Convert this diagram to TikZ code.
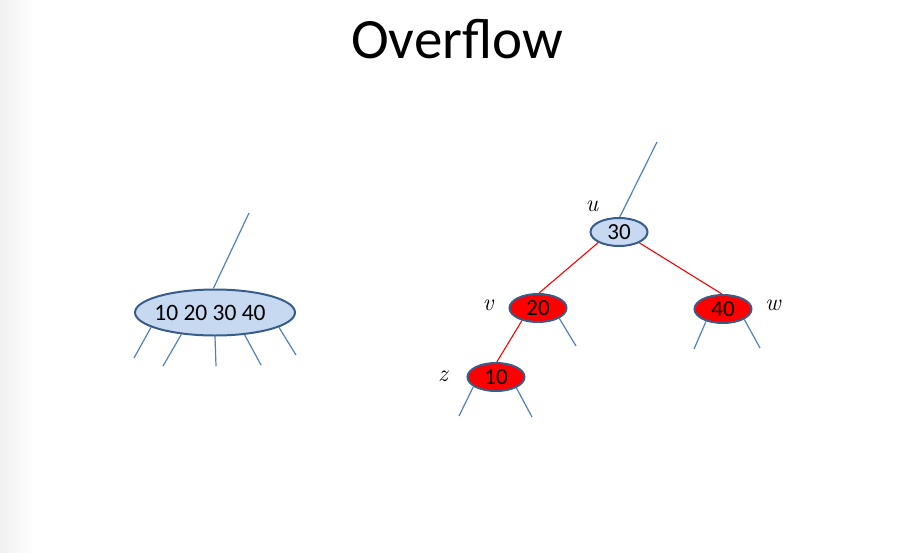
\documentclass[tikz,border=0pt]{standalone}
\usepackage{fontspec}
\setmainfont{Carlito}
\newfontfamily\lmrfont{Latin Modern Roman}
\usetikzlibrary{shapes.geometric}
\definecolor{nodeblue}{HTML}{C6D9F1}
\definecolor{borderblue}{HTML}{385D8A}
\definecolor{lineblue}{HTML}{4F81BD}
\definecolor{pured}{HTML}{FF0000}
\tikzset{
  treenode/.style={ellipse, draw=borderblue, line width=2pt, inner sep=0pt,
    minimum width=57pt, minimum height=28pt, font=\fontsize{23}{24}\selectfont},
  bluenode/.style={treenode, fill=nodeblue},
  rednode/.style={treenode, fill=pured},
  bigtree/.style={ellipse, draw=borderblue, line width=2pt, fill=nodeblue, inner sep=0pt,
    minimum width=160pt, minimum height=46pt},
  bigtext/.style={inner sep=0pt, font=\fontsize{23.5}{25}\selectfont},
  edge/.style={draw=lineblue, line width=1.2pt},
  rededge/.style={draw=pured, line width=1.1pt},
  lbl/.style={font=\lmrfont\itshape\fontsize{24}{26}\selectfont}
}
\begin{document}
\begin{tikzpicture}[x=1pt,y=-1pt]
\useasboundingbox (0,0) rectangle (921,552);
\shade[left color=black!6, right color=white] (0,0) rectangle (34,552);
\node[font=\fontsize{57}{60}\selectfont, anchor=base] (title) at (457,58) {Overflow};

% left: big node
\node[bigtree] (big) at (215,312.5) {};
\node[bigtext] (bigt) at (210,313) {10 20 30 40};
\coordinate (bt) at (249,213);
\coordinate (b1) at (134,358);
\coordinate (b2) at (163,366);
\coordinate (b3) at (216,366);
\coordinate (b4) at (261,365);
\coordinate (b5) at (296,355);
\draw[edge] (big.94) -- (bt);
\draw[edge] (big.193) -- (b1);
\draw[edge] (big.213) -- (b2);
\draw[edge] (big.270) -- (b3);
\draw[edge] (big.323) -- (b4);
\draw[edge] (big.347) -- (b5);

% right: red-black tree
\node[bluenode] (n30) at (619,232) {30};
\node[rednode] (n20) at (538,308) {20};
\node[rednode] (n40) at (723,309) {40};
\node[rednode] (n10) at (496,377) {10};

\node[lbl] (lu) at (592,206) {u};
\node[lbl] (lv) at (488,305) {v};
\node[lbl] (lw) at (773,305) {w};
\node[lbl] (lz) at (443,376) {z};

\coordinate (ut) at (657,142);
\coordinate (v1) at (576,346);
\coordinate (w1) at (694,349);
\coordinate (w2) at (760,348);
\coordinate (z1) at (459,416);
\coordinate (z2) at (532,417);

\draw[edge] (n30.87) -- (ut);
\draw[rededge] (n30.207) -- (n20.86);
\draw[rededge] (n30.332) -- (n40.94);
\draw[rededge] (n20.218) -- (n10.87);
\draw[edge] (n20.334) -- (v1);
\draw[edge] (n40.216) -- (w1);
\draw[edge] (n40.334) -- (w2);
\draw[edge] (n10.203) -- (z1);
\draw[edge] (n10.332) -- (z2);
\end{tikzpicture}
\end{document}
